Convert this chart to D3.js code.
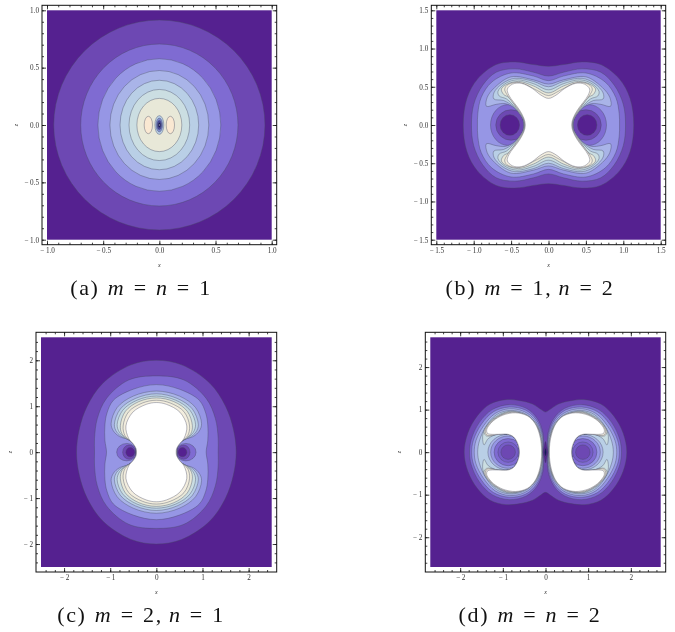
<!DOCTYPE html>
<html lang="en">
<head>
<meta charset="UTF-8">
<title>contours</title>
<script src="https://cdn.jsdelivr.net/npm/d3@7"></script>
<style>
body { margin: 0; background: #fff; }
svg { display: block; filter: blur(0.35px); }
.tick text { font: 7.2px "Liberation Serif", serif; fill: #333; }
.axlabel { font: italic 6px "Liberation Serif", serif; fill: #333; }
.caption { font: 22px "Liberation Serif", serif; fill: #111; letter-spacing: 1.7px; word-spacing: 1px; }
</style>
</head>
<body>
<svg width="675" height="632"></svg>
<script>
// contour level colours, dark background up to white core, then the dark "pit" shades
var levelColors = ["#552190", "#6d48b3", "#7f6bd2", "#9696e5", "#a9b4e8", "#b9cfe6", "#cbdee2", "#e8e8d8", "#f3eedf", "#ffffff", "#7f8fd0", "#4a4a9c", "#14145a", "#765cc8"];
var lobeColor = "#fae8d2";

// (a) [rx, rz, level]
var aRings = [[0.94, 0.915, 1], [0.70, 0.706, 2], [0.547, 0.578, 3], [0.44, 0.475, 4], [0.35, 0.39, 5], [0.27, 0.31, 6], [0.20, 0.232, 7]];
// [cx, rx, rz, level]
var aLobes = [[0.098, 0.037, 0.076, 8]];
var aCore = [[0, 0.04, 0.082, 5], [0, 0.029, 0.06, 10], [0, 0.019, 0.04, 11], [0, 0.01, 0.022, 12], [0, 0.004, 0.006, 9]];

// (b) quadrant outlines, from the z axis round to the x axis, [x, z]
var bL1 = [[0, 0.767], [0.2, 0.79], [0.45, 0.825], [0.7, 0.79], [0.95, 0.6], [1.09, 0.35], [1.14, 0]];
var bL2 = [[0, 0.64], [0.2, 0.69], [0.45, 0.735], [0.7, 0.69], [0.88, 0.52], [1.0, 0.27], [1.03, 0]];
var bL3 = [[0, 0.58], [0.2, 0.64], [0.5, 0.68], [0.76, 0.56], [0.9, 0.36], [0.945, 0.15], [0.95, 0]];
var bL4 = [[0, 0.535], [0.2, 0.59], [0.5, 0.63], [0.72, 0.49], [0.82, 0.36], [0.83, 0.245], [0.7, 0.27], [0.58, 0.28], [0.45, 0.22], [0.35, 0.1], [0.33, 0]];
var bL5 = [[0, 0.5], [0.2, 0.57], [0.45, 0.61], [0.62, 0.54], [0.73, 0.42], [0.73, 0.34], [0.6, 0.32], [0.47, 0.24], [0.35, 0.09], [0.33, 0]];
var bL6 = [[0, 0.46], [0.2, 0.54], [0.42, 0.59], [0.58, 0.54], [0.675, 0.44], [0.66, 0.38], [0.56, 0.34], [0.44, 0.22], [0.34, 0.08], [0.325, 0]];
var bL7 = [[0, 0.42], [0.2, 0.51], [0.4, 0.57], [0.56, 0.53], [0.63, 0.47], [0.6, 0.4], [0.53, 0.36], [0.42, 0.21], [0.335, 0.08], [0.32, 0]];
var bL8 = [[0, 0.385], [0.15, 0.45], [0.38, 0.555], [0.54, 0.53], [0.585, 0.47], [0.55, 0.39], [0.4, 0.2], [0.33, 0.08], [0.315, 0]];
var bTop = [[0, 0.348], [0.1, 0.39], [0.22, 0.48], [0.36, 0.544], [0.48, 0.535], [0.55, 0.47], [0.53, 0.39], [0.39, 0.2], [0.33, 0.09], [0.31, 0]];
var bHoles = [[0.54, 0.235, 0.267, 2], [0.5, 0.205, 0.2, 1], [0.517, 0.13, 0.135, 0]];

// (c)
var cL1 = [[0, 2.0], [0.55, 1.9], [1.16, 1.5], [1.5, 1.0], [1.67, 0.5], [1.73, 0]];
var cL2 = [[0, 1.66], [0.6, 1.57], [1.08, 1.17], [1.28, 0.73], [1.34, 0.3], [1.34, 0]];
var cL3 = [[0, 1.47], [0.5, 1.37], [0.93, 1.13], [1.07, 0.85], [1.115, 0.59], [1.115, 0.26], [1.08, 0]];
var cL4 = [[0, 1.33], [0.5, 1.22], [0.85, 0.97], [0.98, 0.62], [0.93, 0.46], [0.8, 0.34], [0.6, 0.27], [0.47, 0.14], [0.44, 0]];
var cL5 = [[0, 1.27], [0.45, 1.17], [0.78, 0.94], [0.91, 0.6], [0.86, 0.44], [0.74, 0.33], [0.57, 0.25], [0.46, 0.13], [0.44, 0]];
var cL6 = [[0, 1.22], [0.42, 1.13], [0.73, 0.91], [0.85, 0.6], [0.8, 0.43], [0.69, 0.32], [0.55, 0.24], [0.45, 0.12], [0.44, 0]];
var cL7 = [[0, 1.18], [0.38, 1.1], [0.67, 0.89], [0.78, 0.58], [0.75, 0.41], [0.65, 0.3], [0.53, 0.23], [0.45, 0.12], [0.435, 0]];
var cL8 = [[0, 1.13], [0.3, 1.07], [0.6, 0.88], [0.72, 0.57], [0.68, 0.36], [0.57, 0.25], [0.48, 0.15], [0.44, 0.07], [0.43, 0]];
var cTop = [[0, 1.08], [0.22, 1.04], [0.51, 0.87], [0.66, 0.57], [0.6, 0.3], [0.5, 0.18], [0.44, 0.08], [0.43, 0]];
var cHoles = [[0.64, 0.22, 0.19, 2], [0.59, 0.14, 0.155, 1], [0.565, 0.095, 0.1, 0]];

// (d) L1 wraps both lobes, the rest are half outlines of the right lobe from z=0 back to z=0
var dL1 = [[0, 0.945], [0.1, 1.0], [0.3, 1.13], [0.6, 1.21], [0.93, 1.234], [1.3, 1.13], [1.6, 0.85], [1.82, 0.45], [1.906, 0]];
var dL2 = [[0.05, 0], [0.06, 0.45], [0.2, 0.8], [0.45, 1.03], [0.85, 1.117], [1.25, 1.0], [1.55, 0.7], [1.74, 0.3], [1.78, 0]];
var dL3 = [[0.06, 0], [0.07, 0.42], [0.22, 0.77], [0.47, 0.99], [0.85, 1.06], [1.22, 0.95], [1.5, 0.66], [1.69, 0.28], [1.73, 0]];
var dL4 = [[0.07, 0], [0.08, 0.4], [0.24, 0.74], [0.49, 0.95], [0.85, 1.02], [1.18, 0.91], [1.45, 0.62], [1.63, 0.27], [1.67, 0]];
var dL5 = [[0.075, 0], [0.09, 0.38], [0.26, 0.72], [0.51, 0.92], [0.85, 0.98], [1.15, 0.88], [1.4, 0.6], [1.55, 0.26], [1.59, 0]];
var dL6 = [[0.08, 0], [0.09, 0.3], [0.24, 0.7], [0.55, 0.91], [0.85, 0.96], [1.12, 0.86], [1.35, 0.66], [1.47, 0.4], [1.44, 0.17], [1.34, 0.32], [1.1, 0.43], [0.88, 0.42], [0.75, 0.36], [0.65, 0.2], [0.61, 0]];
var dL7 = [[0.085, 0], [0.095, 0.25], [0.2, 0.6], [0.57, 0.91], [0.85, 0.945], [1.1, 0.85], [1.32, 0.68], [1.44, 0.48], [1.38, 0.38], [1.1, 0.42], [0.88, 0.42], [0.75, 0.36], [0.65, 0.2], [0.61, 0]];
var dL8 = [[0.09, 0], [0.1, 0.25], [0.2, 0.6], [0.42, 0.86], [0.8, 0.935], [1.06, 0.86], [1.3, 0.68], [1.41, 0.5], [1.37, 0.4], [1.1, 0.42], [0.88, 0.42], [0.75, 0.36], [0.65, 0.2], [0.61, 0]];
var dTop = [[0.09, 0], [0.1, 0.2], [0.15, 0.45], [0.25, 0.68], [0.42, 0.85], [0.7, 0.925], [1.0, 0.87], [1.22, 0.74], [1.33, 0.62], [1.38, 0.52], [1.36, 0.44], [1.28, 0.42], [1.1, 0.42], [0.88, 0.42], [0.75, 0.36], [0.65, 0.2], [0.61, 0]];
var dHoles = [[0.88, 0.47, 0.42, 4], [0.875, 0.41, 0.38, 3], [0.875, 0.33, 0.32, 2], [0.875, 0.24, 0.24, 13], [0.875, 0.17, 0.17, 1]];
var dPit = [[0, 0.25], [0.03, 0.12], [0.055, 0]];
var dPitIn = [[0, 0.09], [0.022, 0]];

// ticks
var aMajor = [-1, -0.5, 0, 0.5, 1];
var aLabels = ["\u2212 1.0", "\u2212 0.5", "0.0", "0.5", "1.0"];
var aMinor = d3.range(-10, 11).map(function(d) { return d / 10; });
var bMajor = [-1.5, -1, -0.5, 0, 0.5, 1, 1.5];
var bLabels = ["\u2212 1.5", "\u2212 1.0", "\u2212 0.5", "0.0", "0.5", "1.0", "1.5"];
var bMinor = d3.range(-15, 16).map(function(d) { return d / 10; });
var cMajor = [-2, -1, 0, 1, 2];
var cLabels = ["\u2212 2", "\u2212 1", "0", "1", "2"];
var cMinor = d3.range(-12, 13).map(function(d) { return d / 5; });
var dMinor = d3.range(-13, 14).map(function(d) { return d / 5; });

var svg = d3.select("svg");

// outlines go through d3.line on the panel scales
function both(q) {   // mirror a first quadrant outline to a closed ring
    var out = q.slice();
    q.slice(0, -1).reverse().forEach(function(p) { out.push([p[0], -p[1]]); });
    var half = out.slice(1, -1).reverse().map(function(p) { return [-p[0], p[1]]; });
    return out.concat(half);
}
function halfZ(q, sign) {   // mirror a half outline over z=0
    var out = q.slice();
    q.slice(1, -1).reverse().forEach(function(p) { out.push([p[0], -p[1]]); });
    return out.map(function(p) { return [sign * p[0], p[1]]; });
}

function panel(box, domain, major, labels, minor, caption) {
    var x = d3.scaleLinear().domain([-domain, domain]).range([box[0], box[1]]);
    var z = d3.scaleLinear().domain([-domain, domain]).range([box[3], box[2]]);
    var g = svg.append("g");
    var line = d3.line().x(function(p) { return x(p[0]); }).y(function(p) { return z(p[1]); }).curve(d3.curveCatmullRomClosed.alpha(0.5));
    var pad = 5;

    g.append("rect").attr("x", box[0]).attr("y", box[2]).attr("width", box[1] - box[0]).attr("height", box[3] - box[2]).attr("fill", levelColors[0]);

    var marks = g.append("g").attr("stroke", "#45485f").attr("stroke-opacity", 0.7).attr("stroke-width", 0.55);
    function shape(pts, level) {
        marks.append("path").attr("d", line(pts)).attr("fill", levelColors[level]);
    }
    function oval(cx, rx, rz, fill) {
        marks.append("ellipse").attr("cx", x(cx)).attr("cy", z(0))
            .attr("rx", x(rx) - x(0)).attr("ry", z(0) - z(rz)).attr("fill", fill);
    }
    function ovals(list, color) {
        list.forEach(function(d) {
            var fill = color || levelColors[d[3]];
            oval(d[0], d[1], d[2], fill);
            if (d[0] !== 0) oval(-d[0], d[1], d[2], fill);
        });
    }

    // frame and ticks
    function axes() {
        var frame = g.append("g");
        frame.append("rect").attr("x", box[0] - pad).attr("y", box[2] - pad)
            .attr("width", box[1] - box[0] + 2 * pad).attr("height", box[3] - box[2] + 2 * pad)
            .attr("fill", "none").attr("stroke", "#111").attr("stroke-width", 1);
        var bottom = box[3] + pad, top = box[2] - pad, left = box[0] - pad, right = box[1] + pad;
        function put(ax, tx, ty) {
            var a = frame.append("g").attr("transform", "translate(" + tx + "," + ty + ")").call(ax);
            a.select(".domain").remove();
            a.selectAll("line").attr("stroke", "#111").attr("stroke-width", 0.8);
        }
        var fmt = function(d, i) { return labels[i]; };
        put(d3.axisBottom(x).tickValues(minor).tickSize(-2).tickFormat(""), 0, bottom);
        put(d3.axisTop(x).tickValues(minor).tickSize(-2).tickFormat(""), 0, top);
        put(d3.axisLeft(z).tickValues(minor).tickSize(-2).tickFormat(""), left, 0);
        put(d3.axisRight(z).tickValues(minor).tickSize(-2).tickFormat(""), right, 0);
        put(d3.axisBottom(x).tickValues(major).tickSize(-4).tickPadding(3).tickFormat(fmt), 0, bottom);
        put(d3.axisTop(x).tickValues(major).tickSize(-4).tickFormat(""), 0, top);
        put(d3.axisLeft(z).tickValues(major).tickSize(-4).tickPadding(3).tickFormat(fmt), left, 0);
        put(d3.axisRight(z).tickValues(major).tickSize(-4).tickFormat(""), right, 0);

        var cx = x(0), cy = z(0);
        frame.append("text").attr("class", "axlabel").attr("x", cx).attr("y", bottom + 22).attr("text-anchor", "middle").text("x");
        frame.append("text").attr("class", "axlabel").attr("text-anchor", "middle")
            .attr("transform", "translate(" + (left - 24) + "," + cy + ") rotate(-90)").text("z");

        var cap = g.append("text").attr("class", "caption").attr("x", caption[1]).attr("y", caption[2]).attr("text-anchor", "middle");
        caption[0].split(/([mn])/).forEach(function(s) {
            cap.append("tspan").attr("font-style", s === "m" || s === "n" ? "italic" : null).text(s);
        });
    }
    return { shape: shape, ovals: ovals, axes: axes };
}

var pa = panel([47, 271.7, 10.3, 239.7], 1, aMajor, aLabels, aMinor, ["(a) m = n = 1", 141, 294.5]);
aRings.forEach(function(d) { pa.ovals([[0, d[0], d[1], d[2]]]); });
pa.ovals(aLobes, lobeColor);
pa.ovals(aCore);
pa.axes();

var pb = panel([436.3, 660.7, 10.3, 239.7], 1.5, bMajor, bLabels, bMinor, ["(b) m = 1,\u2009n = 2", 530, 294.5]);
[[bL1, 1], [bL2, 2], [bL3, 3]].forEach(function(d) { pb.shape(both(d[0]), d[1]); });
pb.ovals(bHoles);
[[bL4, 4], [bL5, 5], [bL6, 6], [bL7, 7], [bL8, 8], [bTop, 9]].forEach(function(d) { pb.shape(both(d[0]), d[1]); });
pb.axes();

var pc = panel([41, 271.7, 337.3, 567], 2.5, cMajor, cLabels, cMinor, ["(c) m = 2,\u2009n = 1", 141, 622]);
[[cL1, 1], [cL2, 2], [cL3, 3]].forEach(function(d) { pc.shape(both(d[0]), d[1]); });
pc.ovals(cHoles);
[[cL4, 4], [cL5, 5], [cL6, 6], [cL7, 7], [cL8, 8], [cTop, 9]].forEach(function(d) { pc.shape(both(d[0]), d[1]); });
pc.axes();

var pd = panel([430.3, 660.7, 337.3, 567], 2.7, cMajor, cLabels, dMinor, ["(d) m = n = 2", 530, 622]);
pd.shape(both(dL1), 1);
[[dL2, 2], [dL3, 3], [dL4, 4], [dL5, 5]].forEach(function(d) {
    pd.shape(halfZ(d[0], 1), d[1]);
    pd.shape(halfZ(d[0], -1), d[1]);
});
pd.ovals(dHoles);
[[dL6, 6], [dL7, 7], [dL8, 8], [dTop, 9]].forEach(function(d) {
    pd.shape(halfZ(d[0], 1), d[1]);
    pd.shape(halfZ(d[0], -1), d[1]);
});
pd.shape(both(dPit), 0);
pd.shape(both(dPitIn), 12);
pd.axes();
</script>
</body>
</html>
